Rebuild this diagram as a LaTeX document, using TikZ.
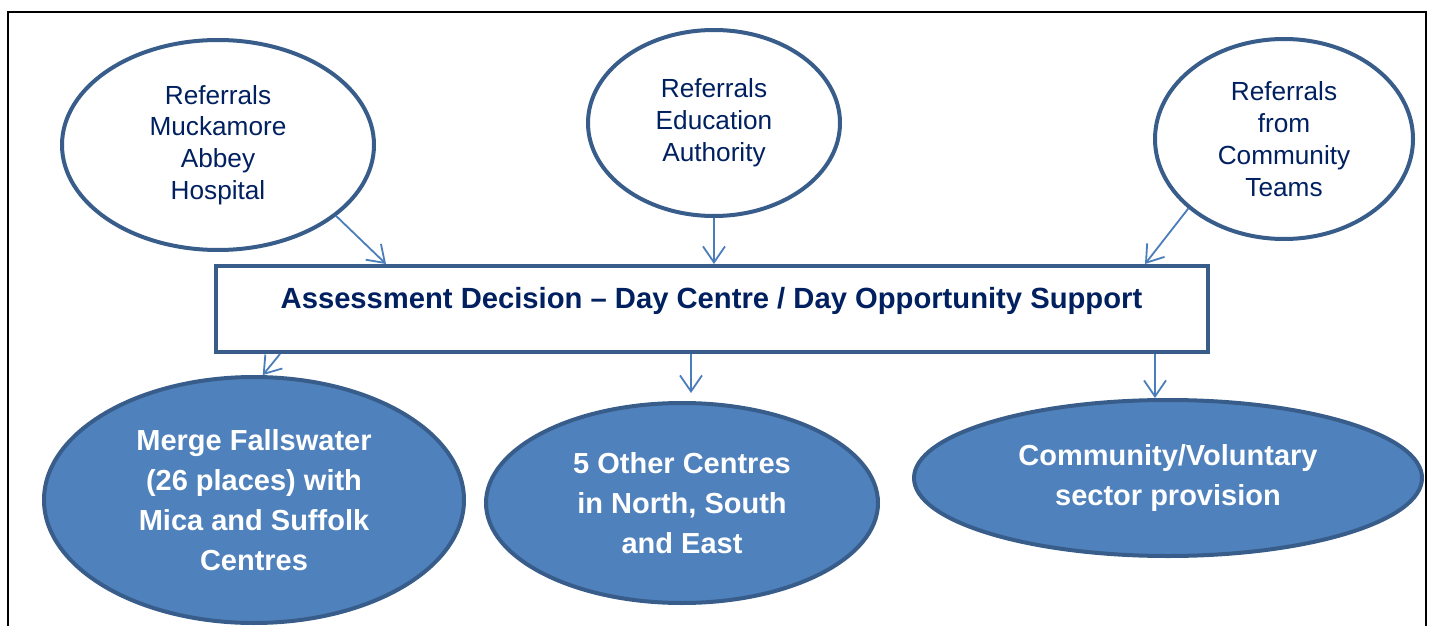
\documentclass[tikz,border=0pt]{standalone}
\usepackage{fontspec}
\setmainfont{Liberation Sans}
\usetikzlibrary{shapes.geometric,arrows.meta}

\definecolor{navytext}{RGB}{0,32,96}
\definecolor{rimblue}{RGB}{56,93,138}
\definecolor{fillblue}{RGB}{79,129,189}
\definecolor{arrowblue}{RGB}{74,126,187}

\begin{document}
\begin{tikzpicture}[x=0.5pt,y=-0.5pt,
        referral/.style={ellipse,draw=rimblue,line width=2pt,fill=white,inner sep=0pt,
            align=center,text=navytext,font=\fontsize{13.1}{15.9}\selectfont},
        outcome/.style={ellipse,draw=rimblue,line width=2pt,fill=fillblue,inner sep=0pt,
            align=center,text=white,font=\bfseries\fontsize{14.5}{20}\selectfont},
        decision/.style={rectangle,draw=rimblue,line width=2pt,fill=white,
            text=navytext,font=\bfseries\fontsize{14.6}{18}\selectfont},
        flow/.style={draw=arrowblue,line width=0.9pt,-{Straight Barb[length=8pt,width=11pt]}}]
        \useasboundingbox (0,0) rectangle (1430,626);
        \draw[line width=1pt] (8,626) -- (8,12) -- (1426,12) -- (1426,626);

        % referrals coming in
        \node[referral,minimum width=156pt,minimum height=105pt] (refmuck) at (218,145)
            {Referrals\\Muckamore\\Abbey\\Hospital};
        \node[referral,minimum width=126pt,minimum height=93pt] (refedu) at (714,123)
            {Referrals\\Education\\Authority};
        \node[referral,minimum width=129pt,minimum height=100pt] (refcom) at (1284,139)
            {Referrals\\from\\Community\\Teams};

        \node[decision,minimum width=496pt,minimum height=43pt,text height=11pt,text depth=12pt]
            (assess) at (711.5,309)
            {Assessment Decision -- Day Centre / Day Opportunity Support};

        % where people go
        \node[outcome,minimum width=210pt,minimum height=123pt] (mergefall) at (254,500)
            {Merge Fallswater\\(26 places) with\\Mica and Suffolk\\Centres};
        \node[outcome,minimum width=196pt,minimum height=100pt] (othercen) at (682,503)
            {5 Other Centres\\in North, South\\and East};
        \node[outcome,minimum width=254pt,minimum height=78pt] (volsec) at (1168,478)
            {Community/Voluntary\\sector provision};

        \draw[flow] (refmuck.-31) -- (assess.north -| 386,0);
        \draw[flow] (refedu.south) -- (assess.north -| refedu.south);
        \draw[flow] (refcom.-144) -- (assess.north -| 1145,0);

        \draw[flow] (assess.south -| 280,0) -- (mergefall.86);
        \draw[flow,shorten >=4pt] (assess.south -| 691,0) -- (othercen.north -| 691,0);
        \draw[flow] (assess.south -| 1155,0) -- (volsec.north -| 1155,0);
\end{tikzpicture}
\end{document}
